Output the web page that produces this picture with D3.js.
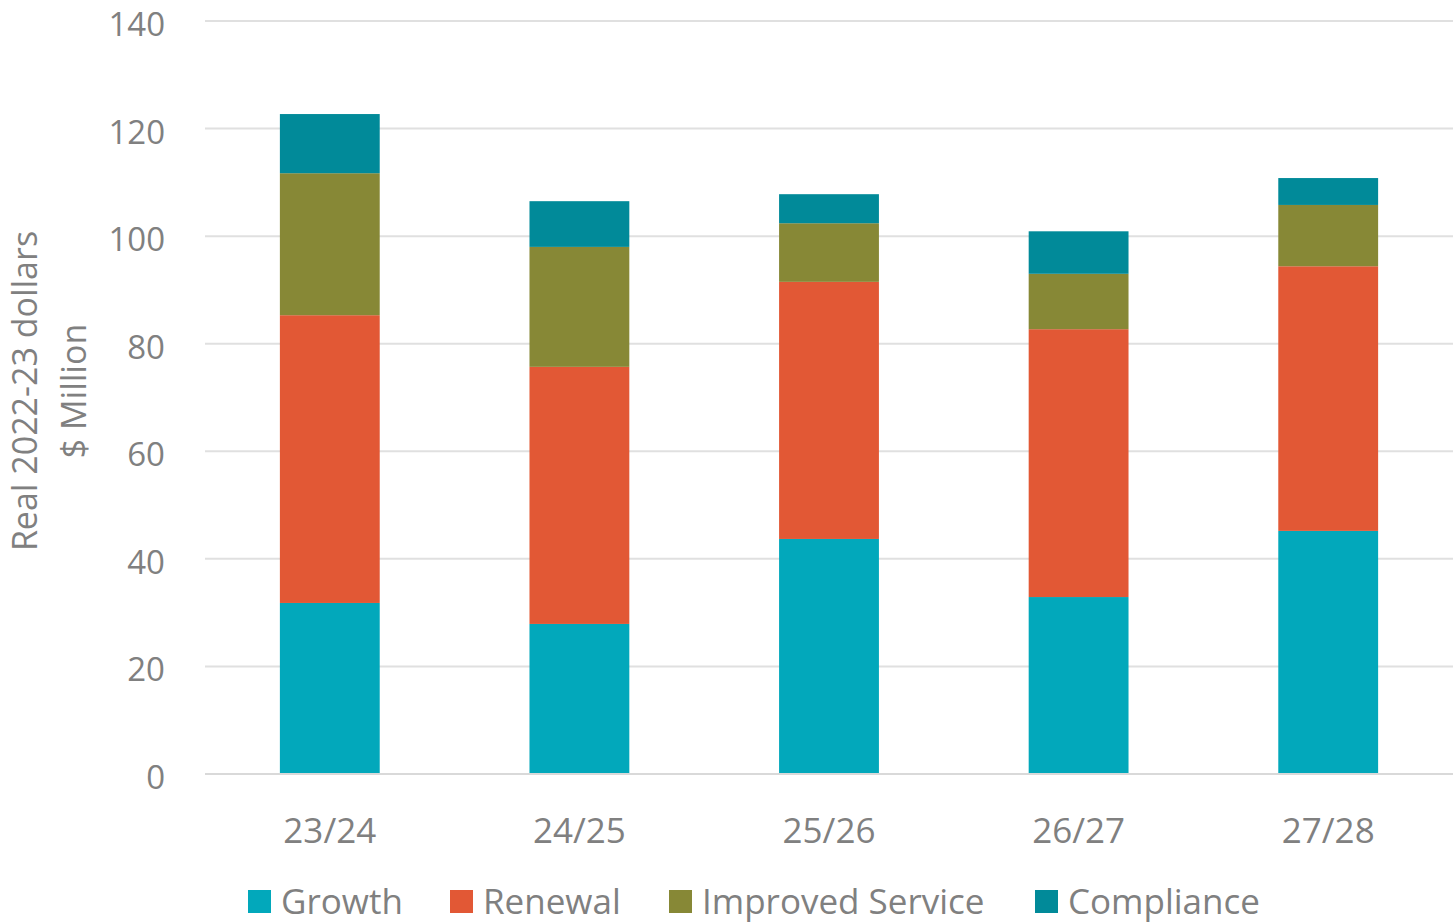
<!DOCTYPE html>
<html>
<head>
<meta charset="utf-8">
<script src="https://cdn.jsdelivr.net/npm/d3@7"></script>
<style>
  body { margin: 0; background: #fff; }
  text { font-family: "Open Sans", "Noto Sans", sans-serif; fill: #808080; }
</style>
</head>
<body>
<div id="chart"></div>
<script>
const years = ["23/24", "24/25", "25/26", "26/27", "27/28"];
const seriesNames = ["Growth", "Renewal", "Improved Service", "Compliance"];
const growth = [31.8, 27.9, 43.7, 32.9, 45.2];
const renewal = [53.5, 47.8, 47.8, 49.8, 49.2];
const improved = [26.4, 22.3, 10.9, 10.3, 11.4];
const compliance = [11.0, 8.5, 5.4, 7.9, 5.0];
const yTicks = [0, 20, 40, 60, 80, 100, 120, 140];
const colors = ["#02a8bb", "#e25835", "#878836", "#018a99"];

const width = 1453, height = 923;
const margin = {top: 21, right: 0, bottom: 149, left: 205};

const rows = years.map((y, i) => ({
  year: y,
  "Growth": growth[i],
  "Renewal": renewal[i],
  "Improved Service": improved[i],
  "Compliance": compliance[i]
}));
const stacked = d3.stack().keys(seriesNames)(rows);

const svg = d3.select("#chart").append("svg")
  .attr("width", width).attr("height", height);

const x = d3.scaleBand().domain(years)
  .range([margin.left, width - margin.right])
  .paddingInner(0.6).paddingOuter(0.3);

const y = d3.scaleLinear().domain([0, 140])
  .range([height - margin.bottom, margin.top]);

// gridlines
svg.append("g").selectAll("line")
  .data(yTicks.filter(d => d > 0)).enter()
  .append("line")
  .attr("x1", margin.left).attr("x2", width)
  .attr("y1", d => y(d)).attr("y2", d => y(d))
  .attr("stroke", "#e0e0e0").attr("stroke-width", 2);

// y axis labels
const yAxis = svg.append("g")
  .attr("transform", `translate(${margin.left},0)`)
  .call(d3.axisLeft(y).tickValues(yTicks).tickSize(0).tickPadding(40));
yAxis.select(".domain").remove();
yAxis.selectAll("text")
  .style("font-size", "33px").attr("fill", "#808080")
  .attr("dy", "0.44em");

// bars
svg.append("g").selectAll("g")
  .data(stacked).enter()
  .append("g")
  .attr("fill", (d, i) => colors[i])
  .selectAll("rect")
  .data(d => d).enter()
  .append("rect")
  .attr("x", d => x(d.data.year))
  .attr("width", x.bandwidth())
  .attr("y", d => y(d[1]))
  .attr("height", d => y(d[0]) - y(d[1]));

// baseline
svg.append("line")
  .attr("x1", margin.left).attr("x2", width)
  .attr("y1", y(0)).attr("y2", y(0))
  .attr("stroke", "#d9d9d9").attr("stroke-width", 2);

// x axis labels
const xAxis = svg.append("g")
  .attr("transform", `translate(0,${y(0)})`)
  .call(d3.axisBottom(x).tickSize(0).tickPadding(44));
xAxis.select(".domain").remove();
xAxis.selectAll("text")
  .style("font-size", "35px").attr("fill", "#808080");

// y axis title
const title = svg.append("text")
  .attr("transform", "translate(0,391) rotate(-90)")
  .attr("text-anchor", "middle");
title.append("tspan").attr("x", 0).attr("y", 37)
  .style("font-size", "34px").text("Real 2022-23 dollars");
title.append("tspan").attr("x", 0).attr("y", 86)
  .style("font-size", "34px").text("$ Million");

// legend
const legendX = [248, 450, 669, 1035];
const legend = svg.append("g").selectAll("g")
  .data(seriesNames).enter()
  .append("g")
  .attr("transform", (d, i) => `translate(${legendX[i]},890)`);
legend.append("rect")
  .attr("width", 23).attr("height", 23)
  .attr("fill", (d, i) => colors[i]);
legend.append("text")
  .attr("x", 33).attr("y", 24)
  .style("font-size", "35px")
  .text(d => d);
</script>
</body>
</html>
